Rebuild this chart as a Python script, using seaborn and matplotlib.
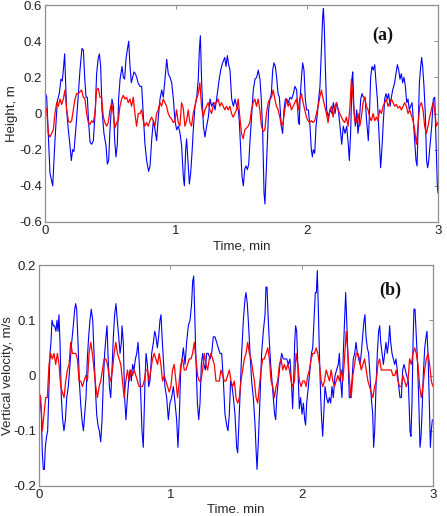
import numpy as np
import matplotlib
matplotlib.use('Agg')
import matplotlib.pyplot as plt
import seaborn as sns

# --- data ---
# time [min], value ; panel (a) height [m]
blue_a = [
    (0.000, 0.12), (0.013, 0.09), (0.038, -0.33), (0.059, -0.40), (0.076, -0.15), (0.094, 0.07), (0.109, 0.11),
    (0.122, 0.19), (0.132, 0.18), (0.140, 0.24), (0.150, 0.33), (0.155, 0.22), (0.165, 0.02), (0.178, -0.09),
    (0.191, -0.18), (0.201, -0.26), (0.211, -0.20), (0.221, -0.21), (0.237, -0.07), (0.252, 0.08), (0.267, 0.24),
    (0.282, 0.36), (0.293, 0.35), (0.303, 0.20), (0.313, 0.09), (0.323, 0.09), (0.333, -0.05), (0.344, -0.16),
    (0.356, -0.17), (0.369, -0.15), (0.384, 0.02), (0.394, 0.22), (0.405, 0.30), (0.415, 0.33), (0.425, 0.26),
    (0.435, 0.02), (0.450, -0.11), (0.466, -0.18), (0.476, -0.28), (0.486, -0.26), (0.496, -0.09), (0.511, 0.08),
    (0.522, 0.04), (0.532, -0.15), (0.542, -0.24), (0.552, -0.17), (0.562, 0.08), (0.573, 0.19), (0.588, 0.26),
    (0.598, 0.20), (0.608, 0.19), (0.618, 0.30), (0.628, 0.35), (0.639, 0.40), (0.649, 0.26), (0.659, 0.17),
    (0.669, 0.20), (0.679, 0.23), (0.690, 0.22), (0.700, 0.20), (0.710, 0.17), (0.725, 0.15), (0.738, 0.15),
    (0.751, -0.02), (0.763, -0.17), (0.776, -0.26), (0.791, -0.32), (0.802, -0.29), (0.814, -0.15), (0.827, -0.04),
    (0.840, -0.09), (0.852, -0.15), (0.865, -0.02), (0.878, 0.08), (0.891, 0.13), (0.903, 0.09), (0.916, 0.19),
    (0.929, 0.30), (0.941, 0.22), (0.954, 0.20), (0.967, 0.17), (0.980, 0.08), (0.992, -0.04), (1.005, -0.09),
    (1.018, -0.07), (1.031, -0.11), (1.043, -0.18), (1.056, -0.35), (1.064, -0.40), (1.074, -0.20), (1.081, -0.14),
    (1.094, -0.29), (1.102, -0.39), (1.112, -0.33), (1.122, -0.22), (1.132, -0.09), (1.145, 0.04), (1.158, 0.09),
    (1.170, 0.19), (1.178, 0.35), (1.186, 0.43), (1.196, 0.17), (1.209, -0.07), (1.221, -0.13), (1.234, -0.07),
    (1.247, -0.02), (1.260, 0.08), (1.272, 0.04), (1.285, 0.06), (1.298, 0.02), (1.310, 0.08), (1.326, 0.17),
    (1.341, 0.24), (1.356, 0.28), (1.372, 0.31), (1.382, 0.26), (1.392, 0.32), (1.402, 0.27), (1.412, 0.24),
    (1.425, 0.08), (1.438, 0.04), (1.450, 0.08), (1.463, 0.04), (1.476, 0.02), (1.483, -0.04), (1.494, -0.20),
    (1.504, -0.35), (1.514, -0.40), (1.524, -0.31), (1.534, -0.29), (1.545, -0.31), (1.555, -0.28), (1.565, -0.15),
    (1.580, 0.02), (1.590, 0.13), (1.603, 0.19), (1.616, 0.20), (1.628, 0.24), (1.641, 0.19), (1.651, 0.08),
    (1.662, -0.11), (1.672, -0.44), (1.679, -0.50), (1.687, -0.35), (1.697, -0.15), (1.707, 0.02), (1.718, 0.08),
    (1.728, 0.11), (1.738, 0.24), (1.748, 0.28), (1.758, 0.26), (1.768, 0.20), (1.779, 0.11), (1.789, 0.09),
    (1.804, -0.07), (1.814, -0.11), (1.824, 0.02), (1.835, 0.08), (1.845, 0.08), (1.858, 0.06), (1.870, 0.09),
    (1.883, 0.08), (1.896, 0.11), (1.908, 0.15), (1.921, 0.13), (1.934, -0.04), (1.941, -0.06), (1.947, 0.08),
    (1.957, 0.19), (1.967, 0.28), (1.977, 0.24), (1.987, 0.08), (1.997, 0.02), (2.010, 0.02), (2.023, -0.07),
    (2.033, -0.20), (2.041, -0.24), (2.048, -0.20), (2.059, -0.22), (2.069, -0.07), (2.079, 0.00), (2.089, 0.08),
    (2.099, 0.15), (2.109, 0.33), (2.120, 0.54), (2.125, 0.58), (2.132, 0.48), (2.140, 0.26), (2.150, 0.02),
    (2.163, -0.02), (2.176, 0.02), (2.191, 0.00), (2.201, 0.06), (2.214, 0.00), (2.226, 0.06), (2.239, 0.02),
    (2.252, -0.07), (2.265, -0.17), (2.277, -0.07), (2.290, -0.11), (2.303, -0.07), (2.316, -0.18), (2.323, -0.26),
    (2.333, -0.11), (2.344, 0.20), (2.349, 0.23), (2.359, 0.02), (2.369, -0.07), (2.379, 0.02), (2.389, -0.11),
    (2.400, -0.04), (2.410, 0.08), (2.420, 0.11), (2.430, 0.09), (2.443, 0.09), (2.455, -0.04), (2.468, -0.15),
    (2.476, -0.02), (2.486, 0.20), (2.496, 0.26), (2.506, 0.24), (2.517, 0.27), (2.527, 0.17), (2.537, 0.08),
    (2.547, -0.07), (2.557, -0.22), (2.562, -0.30), (2.573, -0.18), (2.583, -0.04), (2.593, 0.08), (2.603, 0.11),
    (2.613, 0.08), (2.623, 0.11), (2.634, 0.04), (2.644, 0.09), (2.654, 0.13), (2.669, 0.17), (2.679, 0.22),
    (2.690, 0.27), (2.700, 0.24), (2.710, 0.19), (2.720, 0.22), (2.730, 0.17), (2.740, 0.20), (2.751, 0.15),
    (2.761, 0.06), (2.771, 0.08), (2.781, 0.02), (2.791, 0.04), (2.802, 0.06), (2.812, -0.04), (2.822, -0.15),
    (2.832, -0.26), (2.840, -0.29), (2.847, -0.11), (2.858, 0.17), (2.868, 0.26), (2.875, 0.31), (2.883, 0.26),
    (2.893, 0.15), (2.903, 0.00), (2.913, -0.26), (2.921, -0.30), (2.929, -0.26), (2.939, -0.18), (2.952, -0.07),
    (2.964, 0.08), (2.975, 0.09), (2.985, -0.15), (2.995, -0.40), (3.000, -0.44),
]

# red trace, sampled evenly over 0..3 min
red_a = [
    0.04, 0.02, -0.11, -0.13, -0.11, -0.09, 0.00, 0.06, 0.04, 0.08,
    0.05, 0.08, 0.13, 0.02, -0.04, -0.05, -0.04, 0.02, 0.08, 0.11,
    0.11, 0.12, 0.13, 0.09, 0.08, 0.00, -0.05, -0.06, -0.04, -0.05,
    0.00, 0.13, 0.14, 0.09, 0.09, -0.02, -0.05, -0.07, -0.05, 0.02,
    0.06, 0.00, -0.08, -0.05, -0.04, 0.04, 0.08, 0.10, 0.08, 0.09,
    0.06, 0.08, 0.04, 0.09, 0.00, -0.07, 0.00,
    0.00, 0.02, -0.04, -0.07, -0.05, -0.07, -0.04, -0.02, -0.04, -0.07,
    0.00, 0.02, 0.06, 0.04, 0.08, 0.06, 0.04, 0.00, -0.02, -0.03,
    -0.05, -0.04, 0.02, -0.05, -0.07, 0.06, 0.03, -0.07, -0.04, 0.02,
    -0.05, -0.07, 0.00, 0.04, 0.08, 0.11, 0.17, 0.04, -0.02, 0.02,
    0.04, 0.06, 0.02, 0.00, 0.04, 0.06, 0.06, 0.08, 0.04, 0.06,
    0.04, 0.02, 0.04, 0.02, 0.04, 0.00, -0.02, 0.00, 0.02, 0.08,
    -0.02, -0.11, -0.14, -0.09, -0.08, -0.07, -0.05, 0.02, 0.06, 0.08,
    0.04, 0.08, 0.02, -0.07, -0.10, -0.09, 0.00, 0.06, 0.08, 0.09,
    0.13, 0.08, 0.04, 0.02, -0.02, -0.07, -0.05, 0.02, 0.08, 0.04,
    0.06, 0.02, 0.04, 0.06, 0.08, 0.02, 0.08, 0.11, 0.06, 0.02,
    -0.02, -0.04, -0.05, -0.04, -0.05, -0.04, 0.00, 0.04, 0.09, 0.13,
    0.08, 0.04, 0.00, -0.05, 0.02, 0.04, -0.02, 0.04, 0.06, 0.02,
    0.00, -0.02, -0.04, -0.05, -0.02, -0.07, 0.02, 0.19, 0.08, -0.04,
    -0.05, 0.00, -0.07, -0.02, 0.06, 0.09, 0.04, 0.02, -0.02, -0.04,
    0.00, -0.04, -0.02, -0.04, 0.02, 0.00, 0.04, 0.06, 0.08, 0.04,
    0.06, 0.08, 0.06, 0.04, 0.05, 0.03, 0.04, 0.02, 0.04, 0.06,
    0.04, 0.00, 0.02, -0.01, -0.04, -0.09, -0.17, -0.07, 0.04, 0.06,
    0.02, -0.07, -0.11, -0.07, -0.02, 0.02, 0.06, 0.02, -0.07, -0.05,
]

# panel (b) vertical velocity [m/s]
blue_b = [
    (0.000, -0.03), (0.008, -0.04), (0.018, -0.07), (0.025, -0.14), (0.033, -0.17), (0.041, -0.17), (0.048, -0.13),
    (0.058, -0.11), (0.066, -0.10), (0.074, -0.04), (0.084, 0.04), (0.091, 0.06), (0.099, 0.10), (0.109, 0.09),
    (0.119, 0.09), (0.129, 0.08), (0.137, 0.10), (0.145, 0.08), (0.152, 0.11), (0.160, 0.06), (0.170, -0.04),
    (0.180, -0.08), (0.190, -0.10), (0.201, -0.08), (0.211, -0.04), (0.223, -0.02), (0.236, 0.02), (0.249, 0.06),
    (0.261, 0.09), (0.272, 0.12), (0.279, 0.13), (0.287, 0.12), (0.297, 0.06), (0.307, -0.01), (0.317, -0.05),
    (0.327, -0.08), (0.338, -0.10), (0.348, -0.07), (0.358, -0.04), (0.368, 0.03), (0.378, 0.07), (0.388, 0.10),
    (0.398, 0.12), (0.409, 0.10), (0.419, 0.04), (0.429, -0.02), (0.439, -0.07), (0.449, -0.09), (0.459, -0.10),
    (0.470, -0.12), (0.480, -0.08), (0.490, -0.01), (0.500, 0.04), (0.510, 0.07), (0.518, 0.09), (0.525, 0.04),
    (0.536, -0.02), (0.546, -0.04), (0.556, 0.01), (0.566, 0.07), (0.576, 0.11), (0.586, 0.13), (0.596, 0.10),
    (0.607, 0.07), (0.617, 0.04), (0.627, 0.06), (0.632, 0.09), (0.642, 0.06), (0.652, -0.04), (0.662, -0.08),
    (0.673, -0.04), (0.683, -0.01), (0.693, 0.01), (0.703, -0.01), (0.713, 0.02), (0.723, 0.01), (0.734, 0.03),
    (0.744, 0.04), (0.754, 0.06), (0.764, 0.02), (0.774, -0.03), (0.784, -0.10), (0.794, -0.13), (0.807, -0.01),
    (0.815, 0.04), (0.825, 0.02), (0.835, -0.02), (0.845, -0.01), (0.858, 0.04), (0.871, 0.06), (0.881, 0.08),
    (0.891, 0.07), (0.901, 0.05), (0.911, 0.07), (0.921, 0.10), (0.929, 0.11), (0.937, 0.07), (0.947, 0.03),
    (0.959, -0.02), (0.972, -0.04), (0.985, -0.08), (0.997, -0.05), (1.010, -0.04), (1.023, -0.02), (1.036, -0.05),
    (1.048, -0.08), (1.058, -0.13), (1.069, -0.07), (1.079, 0.01), (1.089, 0.03), (1.099, 0.05), (1.112, 0.02),
    (1.124, 0.06), (1.137, 0.09), (1.150, 0.10), (1.162, 0.13), (1.170, 0.17), (1.178, 0.18), (1.185, 0.12),
    (1.195, 0.03), (1.206, -0.05), (1.216, -0.08), (1.226, -0.05), (1.236, 0.02), (1.246, 0.04), (1.256, 0.02),
    (1.266, 0.01), (1.277, 0.04), (1.289, 0.04), (1.302, 0.03), (1.315, 0.04), (1.327, 0.07), (1.340, 0.07),
    (1.353, 0.06), (1.365, 0.05), (1.378, 0.04), (1.391, 0.04), (1.404, -0.01), (1.416, -0.07), (1.429, -0.09),
    (1.439, -0.10), (1.449, -0.07), (1.459, -0.01), (1.470, -0.02), (1.480, -0.04), (1.492, -0.07), (1.505, -0.13),
    (1.513, -0.14), (1.520, -0.10), (1.530, -0.04), (1.543, 0.04), (1.556, 0.10), (1.569, 0.14), (1.576, 0.15),
    (1.586, 0.13), (1.596, 0.09), (1.607, 0.04), (1.619, -0.01), (1.632, -0.04), (1.645, -0.09), (1.652, -0.13),
    (1.660, -0.17), (1.670, -0.12), (1.683, -0.04), (1.695, 0.04), (1.708, 0.08), (1.721, 0.11), (1.728, 0.16),
    (1.736, 0.16), (1.744, 0.11), (1.754, 0.06), (1.764, 0.02), (1.774, -0.01), (1.784, -0.04), (1.794, -0.07),
    (1.802, -0.08), (1.810, -0.04), (1.822, -0.01), (1.835, 0.02), (1.848, 0.04), (1.860, 0.03), (1.873, 0.03),
    (1.886, 0.03), (1.898, 0.02), (1.911, 0.03), (1.924, -0.02), (1.931, -0.06), (1.939, -0.01), (1.947, 0.06),
    (1.954, 0.09), (1.962, 0.08), (1.972, 0.01), (1.982, -0.06), (1.992, -0.04), (2.003, -0.07), (2.013, -0.05),
    (2.023, -0.08), (2.030, -0.09), (2.038, -0.05), (2.051, -0.02), (2.063, 0.01), (2.074, 0.04), (2.084, 0.05),
    (2.094, 0.10), (2.104, 0.15), (2.112, 0.15), (2.119, 0.19), (2.127, 0.12), (2.135, 0.04), (2.145, -0.04),
    (2.152, -0.08), (2.160, -0.11), (2.168, -0.07), (2.178, -0.02), (2.190, -0.04), (2.201, -0.05), (2.211, -0.04),
    (2.221, -0.05), (2.231, -0.02), (2.241, -0.04), (2.254, 0.00), (2.266, 0.01), (2.279, 0.02), (2.287, 0.04),
    (2.297, -0.01), (2.307, -0.04), (2.317, 0.04), (2.327, 0.10), (2.335, 0.15), (2.343, 0.10), (2.353, 0.03),
    (2.363, -0.04), (2.373, -0.04), (2.383, -0.01), (2.393, 0.03), (2.404, 0.04), (2.414, 0.06), (2.424, 0.04),
    (2.434, 0.03), (2.444, 0.02), (2.454, 0.04), (2.464, 0.07), (2.475, 0.10), (2.482, 0.11), (2.490, 0.07),
    (2.500, 0.05), (2.510, 0.04), (2.520, 0.00), (2.530, -0.04), (2.541, -0.07), (2.548, -0.13), (2.556, -0.10),
    (2.566, -0.02), (2.576, 0.04), (2.586, 0.08), (2.594, 0.09), (2.602, 0.06), (2.612, 0.04), (2.622, 0.02),
    (2.632, 0.04), (2.642, 0.06), (2.652, 0.04), (2.662, 0.06), (2.670, 0.09), (2.678, 0.06), (2.688, 0.04),
    (2.698, 0.03), (2.708, 0.02), (2.718, 0.03), (2.728, 0.01), (2.739, -0.02), (2.749, -0.04), (2.759, -0.04),
    (2.769, 0.01), (2.779, 0.02), (2.789, 0.01), (2.799, 0.00), (2.812, -0.01), (2.825, -0.10), (2.832, -0.11),
    (2.840, -0.05), (2.848, 0.06), (2.855, 0.12), (2.863, 0.12), (2.871, 0.08), (2.881, 0.03), (2.891, -0.04),
    (2.901, -0.13), (2.909, -0.11), (2.916, -0.07), (2.926, 0.00), (2.937, 0.05), (2.947, 0.07), (2.954, 0.08),
    (2.962, 0.04), (2.972, -0.05), (2.980, -0.13), (2.987, -0.10), (2.995, -0.08),
]

red_b = [
    -0.03, -0.04, -0.10, -0.07, -0.04, -0.04, 0.02, 0.04, 0.03, 0.04,
    0.02, 0.04, 0.02, -0.02, -0.03, -0.04, -0.01, 0.01, 0.02, 0.06,
    0.04, 0.04, 0.04, 0.03, -0.01, -0.01, -0.02, -0.01, 0.00, -0.01,
    0.04, 0.06, 0.04, 0.01, -0.02, -0.04, -0.02, -0.01, 0.01, 0.03,
    0.03, 0.02, 0.00, -0.01, 0.01, 0.04, 0.06, 0.04, 0.03, 0.02,
    -0.01, -0.04, -0.01, 0.01, -0.01, 0.01, 0.00, 0.01, 0.00, -0.01,
    -0.02,
    -0.02, -0.02, -0.01, 0.01, 0.01, -0.01, 0.01, 0.03, 0.04, 0.03,
    0.02, 0.04, 0.02, -0.01, 0.00, -0.01, -0.02, -0.03, -0.02, 0.01,
    0.02, -0.01, -0.04, -0.01, 0.02, 0.03, 0.01, 0.01, 0.02, 0.03,
    0.03, 0.04, 0.06, 0.03, 0.00, -0.01, -0.01, 0.01, 0.04, 0.02,
    0.01, 0.03, 0.04, 0.03, 0.02, -0.01, -0.01, -0.01, 0.01, 0.00,
    -0.01, -0.01, 0.00, 0.01, -0.01, -0.02, -0.01, -0.04, -0.05, -0.04,
    -0.01, 0.01, 0.03, 0.04, 0.06, 0.04, 0.03, 0.01, -0.01, -0.04,
    -0.05, -0.02, 0.01, 0.03, 0.03, 0.04, 0.05, 0.03, -0.01, -0.02,
    -0.04, -0.02, -0.01, 0.02, 0.03, 0.01, 0.02, 0.01, 0.02, 0.01,
    -0.01, -0.02, -0.01, 0.04, 0.02, -0.01, -0.02, -0.01, -0.01, -0.02,
    0.00, 0.01, 0.03, 0.04, 0.04, 0.05, 0.04, 0.02, -0.01, -0.02,
    -0.01, 0.01, 0.00, -0.01, 0.01, -0.01, -0.02, -0.01, 0.00, -0.01,
    0.01, -0.01, 0.03, 0.08, 0.04, -0.01, -0.04, 0.00, 0.02, 0.04,
    0.04, 0.03, 0.01, 0.02, 0.03, 0.01, -0.01, -0.02, -0.03, -0.04,
    -0.02, -0.01, 0.02, 0.03, 0.01, 0.01, 0.01, 0.01, 0.01, 0.01,
    0.01, 0.00, 0.00, 0.01, -0.01, -0.02, -0.02, 0.00, -0.01, -0.02,
    -0.01, 0.03, 0.02, 0.04, 0.05, 0.04, 0.02, -0.02, -0.04, -0.02,
    0.01, 0.03, 0.04, 0.02, -0.01, -0.02,
]

x_ticks = [0, 1, 2, 3]
a_ticks = [-0.6, -0.4, -0.2, 0, 0.2, 0.4, 0.6]
a_labels = ['-0.6', '-0.4', '-0.2', '0', '0.2', '0.4', '0.6']
b_ticks = [-0.2, -0.1, 0, 0.1, 0.2]
b_labels = ['-0.2', '-0.1', '0', '0.1', '0.2']

BLUE = '#0000ff'
RED = '#ff0000'
FRAME = '#8f8f8f'


def draw_panel(ax, blue, red, yticks, ylabels, ylabel, xlabel, tag, tag_xy, ylab_x, xlab_y):
    t_b, v_b = np.array(blue).T
    t_r = np.linspace(0, 3, len(red))
    sns.lineplot(x=t_b, y=v_b, ax=ax, color=BLUE, lw=0.8, estimator=None, sort=False)
    sns.lineplot(x=t_r, y=red, ax=ax, color=RED, lw=0.9, estimator=None, sort=False)

    ax.set_xlim(0, 3)
    ax.set_ylim(yticks[0], yticks[-1])
    ax.set_xticks(x_ticks)
    ax.set_xticklabels([str(x) for x in x_ticks])
    ax.set_yticks(yticks)
    ax.set_yticklabels(ylabels)
    ax.set_xlabel(xlabel, fontsize=9.5)
    ax.set_ylabel(ylabel, fontsize=9.5)
    # label anchors: right edge of the y label, top edge of the x label
    ax.yaxis.set_label_coords(ylab_x, 0.5)
    ax.xaxis.set_label_coords(0.5, xlab_y)
    ax.tick_params(direction='in', length=3, width=0.7, color=FRAME,
                   top=True, right=True, labelsize=9.5, pad=2, labelcolor='#222222')
    for s in ax.spines.values():
        s.set_color(FRAME)
        s.set_linewidth(0.9)
    ax.text(tag_xy[0], tag_xy[1], tag, transform=ax.transAxes, ha='center', va='center',
            fontsize=13, fontweight='bold', family='Liberation Serif', color='#111111')


sns.set_style('white')
plt.rcParams['font.family'] = ['Liberation Sans', 'DejaVu Sans']

fig = plt.figure(figsize=(4.47, 5.16), dpi=100)
ax_a = fig.add_axes([45 / 447, 1 - 222 / 516, 393 / 447, 217 / 516])
ax_b = fig.add_axes([39 / 447, 1 - 486 / 516, 394 / 447, 221 / 516])

draw_panel(ax_a, blue_a, red_a, a_ticks, a_labels, 'Height, m', 'Time, min', '(a)', (0.86, 0.862),
           -0.069, -0.083)
draw_panel(ax_b, blue_b, red_b, b_ticks, b_labels, 'Vertical velocity, m/s', 'Time. min', '(b)', (0.891, 0.887),
           -0.063, -0.082)

fig.savefig('out.png', dpi=100)
